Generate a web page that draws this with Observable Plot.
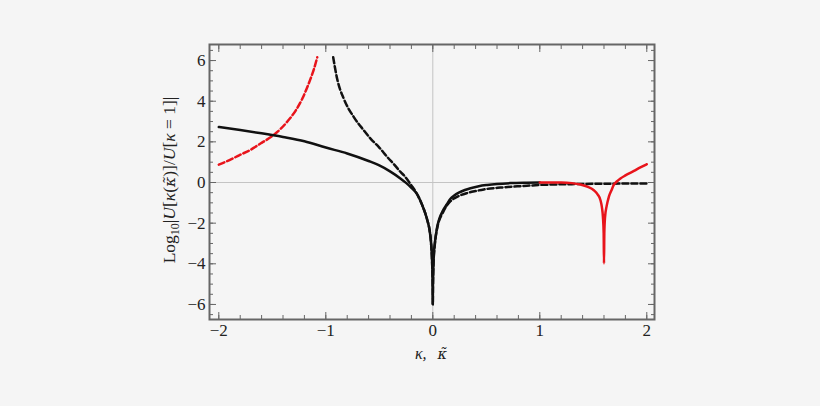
<!DOCTYPE html>
<html><head><meta charset="utf-8">
<script src="https://cdn.jsdelivr.net/npm/d3@7"></script>
<script src="https://cdn.jsdelivr.net/npm/@observablehq/plot@0.6"></script>
<style>
html,body{margin:0;padding:0;background:#f5f5f5;}
#chart svg text{font-family:'Liberation Serif','DejaVu Serif',serif;}
#chart svg tspan.tilde{font-family:'DejaVu Serif',serif;}
</style>
</head><body><div id="chart"></div>
<script>
// Black solid curve (κ from -2 to 1)
const blackSolidX = [-2.0,-1.8,-1.6,-1.4,-1.2,-1.0,-0.8,-0.6,-0.5,-0.4,-0.3,-0.25,-0.2,-0.15,-0.1,-0.07,-0.05,-0.03,-0.016,-0.008,-0.004,-0.001,0,
  0.001,0.005,0.01,0.019,0.03,0.041,0.06,0.097,0.13,0.165,0.2,0.243,0.3,0.352,0.43,0.508,0.6,0.726,0.85,1.0];
const blackSolidY = [2.73,2.58,2.42,2.24,2.03,1.72,1.43,1.06,0.84,0.55,0.19,-0.02,-0.26,-0.55,-1.1,-1.52,-1.88,-2.35,-3.0,-3.7,-4.3,-5.3,-6.0,
  -5.3,-4.2,-3.5,-3.0,-2.55,-2.18,-1.8,-1.36,-1.08,-0.8,-0.64,-0.5,-0.37,-0.28,-0.18,-0.12,-0.07,-0.03,-0.01,0.0];

// Black dashed curve (κ̃ from about -0.93 to 2)
const blackDashX = [-0.931,-0.894,-0.832,-0.738,-0.65,-0.582,-0.5,-0.426,-0.35,-0.302,-0.271,-0.2,-0.15,-0.1,-0.07,-0.05,-0.03,-0.016,-0.005,-0.001,0,
  0.001,0.005,0.019,0.041,0.097,0.165,0.2,0.243,0.32,0.4,0.477,0.633,0.79,0.88,1.0,1.3,1.6,2.0];
const blackDashY = [6.16,5.1,4.12,3.22,2.6,2.16,1.72,1.26,0.82,0.52,0.36,-0.14,-0.54,-1.1,-1.52,-1.88,-2.35,-3.0,-4.2,-5.3,-6.0,
  -5.3,-4.2,-3.05,-2.25,-1.45,-0.92,-0.78,-0.66,-0.52,-0.42,-0.34,-0.25,-0.19,-0.16,-0.12,-0.08,-0.06,-0.05];

// Red dashed curve (κ from -2 to about -1.08)
const redDashX = [-2.0,-1.9,-1.81,-1.7,-1.66,-1.6,-1.5,-1.42,-1.35,-1.28,-1.22,-1.18,-1.143,-1.11,-1.08];
const redDashY = [0.88,1.1,1.34,1.62,1.75,1.95,2.29,2.65,3.06,3.55,4.12,4.6,5.1,5.6,6.16];

// Red solid curve (κ from 1 to 2)
const redSolidX = [1.0,1.1,1.2,1.3,1.38,1.45,1.505,1.54,1.567,1.58,1.59,1.597,1.6,1.603,1.61,1.625,1.645,1.67,1.69,1.72,1.754,1.8,1.88,1.94,2.0];
const redSolidY = [0.0,0.0,0.0,-0.03,-0.1,-0.22,-0.38,-0.58,-0.87,-1.2,-1.69,-2.5,-3.98,-2.5,-1.69,-1.15,-0.71,-0.38,-0.13,0.05,0.2,0.35,0.57,0.74,0.9];

// Ticks
const xMajor = [-2,-1,0,1,2];
const xMinor = [-2,-1.8,-1.6,-1.4,-1.2,-1,-0.8,-0.6,-0.4,-0.2,0,0.2,0.4,0.6,0.8,1,1.2,1.4,1.6,1.8,2];
const yMajor = [-6,-4,-2,0,2,4,6];
const yMinor = [-6.5,-6,-5.5,-5,-4.5,-4,-3.5,-3,-2.5,-2,-1.5,-1,-0.5,0,0.5,1,1.5,2,2.5,3,3.5,4,4.5,5,5.5,6,6.5];

const rows = (xs, ys) => xs.map((x, i) => ({x, y: ys[i]}));
const serif = "'Liberation Serif', 'DejaVu Serif', serif";
const frameColor = "#666";
const textColor = "#222";
const red = "#e8141b";

const plot = Plot.plot({
  width: 820, height: 406,
  marginLeft: 209, marginRight: 166, marginTop: 44, marginBottom: 87,
  x: {domain: [-2.087, 2.072]},
  y: {domain: [-6.74, 6.79]},
  style: {background: "#f5f5f5", fontFamily: serif, color: textColor},
  marks: [
    Plot.ruleY([0], {stroke: "#c4c4c4", strokeWidth: 1}),
    Plot.ruleX([0], {stroke: "#c4c4c4", strokeWidth: 1}),
    Plot.line(rows(redDashX, redDashY), {x: "x", y: "y", stroke: red, strokeWidth: 2.5, strokeDasharray: "6,3", curve: "monotone-x"}),
    Plot.line(rows(blackDashX, blackDashY), {x: "x", y: "y", stroke: "#111", strokeWidth: 2.5, strokeDasharray: "6,3", curve: "monotone-x"}),
    Plot.line(rows(blackSolidX, blackSolidY), {x: "x", y: "y", stroke: "#111", strokeWidth: 2.5, curve: "monotone-x"}),
    Plot.line(rows(redSolidX, redSolidY), {x: "x", y: "y", stroke: red, strokeWidth: 2.5, curve: "monotone-x"}),
    // inward ticks on all four sides
    Plot.axisX(xMinor, {anchor: "bottom", tickSize: -4, tickFormat: () => "", stroke: frameColor, label: null}),
    Plot.axisX(xMajor, {anchor: "bottom", tickSize: -7, tickFormat: () => "", stroke: frameColor, label: null}),
    Plot.axisX(xMinor, {anchor: "top", tickSize: -4, tickFormat: () => "", stroke: frameColor, label: null}),
    Plot.axisX(xMajor, {anchor: "top", tickSize: -7, tickFormat: () => "", stroke: frameColor, label: null}),
    Plot.axisY(yMinor, {anchor: "left", tickSize: -4, tickFormat: () => "", stroke: frameColor, label: null}),
    Plot.axisY(yMajor, {anchor: "left", tickSize: -7, tickFormat: () => "", stroke: frameColor, label: null}),
    Plot.axisY(yMinor, {anchor: "right", tickSize: -4, tickFormat: () => "", stroke: frameColor, label: null}),
    Plot.axisY(yMajor, {anchor: "right", tickSize: -7, tickFormat: () => "", stroke: frameColor, label: null}),
    // tick labels
    Plot.axisX(xMajor, {anchor: "bottom", tickSize: 0, tickPadding: 4, fontSize: 17, fontFamily: serif, fill: textColor, label: null}),
    Plot.axisY(yMajor, {anchor: "left", tickSize: 0, tickPadding: 4, fontSize: 17, fontFamily: serif, fill: textColor, label: null}),
    Plot.frame({stroke: frameColor, strokeWidth: 2})
  ]
});

const svg = d3.select(plot);
// y-axis title
const yt = svg.append("text")
  .attr("transform", "translate(175,180) rotate(-90)")
  .attr("text-anchor", "middle")
  .attr("fill", textColor)
  .style("font-size", "17.5px")
  .style("white-space", "pre");
const parts = [
  ["Log"], ["10", {dy: 4, fs: 12}], ["|", {dy: -4}], ["U", {it: true}], ["["], ["κ", {it: true}], ["("],
  ["κ̃", {it: true, tilde: true, fs: 15.5}], [")]/"], ["U", {it: true}], ["["], ["κ", {it: true}], [" = 1]|"]
];
for (const [t, o = {}] of parts) {
  const ts = yt.append("tspan").text(t);
  if (o.it) ts.style("font-style", "italic");
  if (o.tilde) ts.attr("class", "tilde");
  if (o.dy) ts.attr("dy", o.dy);
  if (o.fs) ts.style("font-size", o.fs + "px");
}
// x-axis title
const xt = svg.append("text")
  .attr("x", 431).attr("y", 359)
  .attr("text-anchor", "middle")
  .attr("fill", textColor)
  .style("font-size", "16px").style("font-style", "italic")
  .style("white-space", "pre");
xt.append("tspan").text("κ,");
xt.append("tspan").attr("dx", 11).attr("class", "tilde").style("font-size", "14.5px").text("κ̃");

document.getElementById("chart").append(plot);
</script>
</body></html>
